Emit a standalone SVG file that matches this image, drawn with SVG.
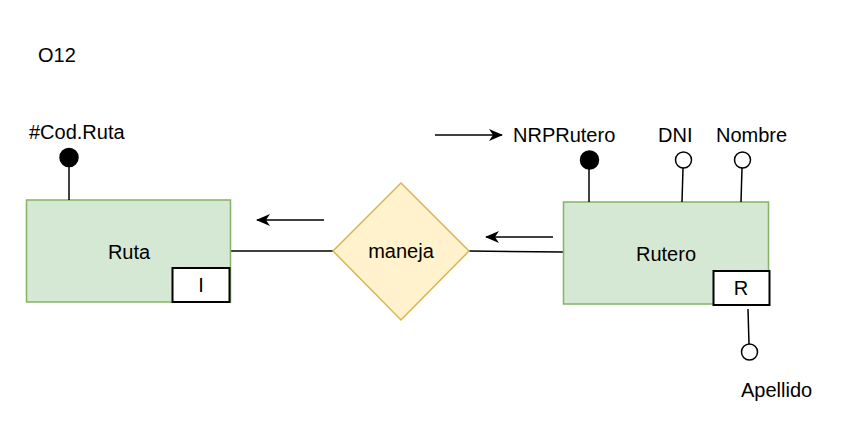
<svg xmlns="http://www.w3.org/2000/svg" width="852" height="436" viewBox="0 0 852 436">
<defs>
<style>
text{font-family:"Liberation Sans",Arial,sans-serif;font-size:20px;fill:#000}
.c{text-anchor:middle}
.ent{fill:#d5e8d4;stroke:#82b366;stroke-width:1.5}
.box{fill:#fff;stroke:#000;stroke-width:2}
.rel{fill:#fff2cc;stroke:#d6b656;stroke-width:1.5}
.ln{stroke:#000;stroke-width:1.5;fill:none}
.key{fill:#000;stroke:#000;stroke-width:1.5}
.opt{fill:#fff;stroke:#000;stroke-width:1.5}
</style>
<marker id="ah" viewBox="0 0 14 12" refX="13" refY="6" markerWidth="14" markerHeight="12" markerUnits="userSpaceOnUse" orient="auto">
<path d="M0,0 L14,6 L0,12 L4,6 Z" fill="#000"/>
</marker>
</defs>
<rect width="852" height="436" fill="#fff"/>
<text x="38" y="62">O12</text>
<g id="connectors">
<line class="ln" x1="231" y1="251" x2="333" y2="251"/>
<line class="ln" x1="469" y1="251" x2="563" y2="252"/>
<line class="ln" x1="324" y1="220" x2="257" y2="220" marker-end="url(#ah)"/>
<line class="ln" x1="553" y1="237" x2="486" y2="237" marker-end="url(#ah)"/>
<line class="ln" x1="435" y1="135" x2="502" y2="135" marker-end="url(#ah)"/>
</g>
<g id="ruta">
<rect class="ent" x="26.5" y="200" width="204" height="102"/>
<text class="c" x="129" y="259">Ruta</text>
<rect class="box" x="172.5" y="268" width="57" height="34"/>
<text class="c" x="201" y="292">I</text>
</g>
<g id="cod-ruta">
<line class="ln" x1="69" y1="158" x2="69" y2="200"/>
<circle class="key" cx="69" cy="157.5" r="9"/>
<text x="29" y="139">#Cod.Ruta</text>
</g>
<g id="maneja">
<polygon class="rel" points="401,183 469,251 401,320 333,251"/>
<text class="c" x="401" y="258">maneja</text>
</g>
<g id="rutero">
<rect class="ent" x="563.5" y="202" width="205" height="102"/>
<text class="c" x="666" y="261">Rutero</text>
<rect class="box" x="713.5" y="271" width="56" height="34"/>
<text class="c" x="741" y="295">R</text>
</g>
<g id="nrprutero">
<line class="ln" x1="589" y1="160" x2="589" y2="202"/>
<circle class="key" cx="589.5" cy="160" r="9"/>
<text x="513" y="142">NRPRutero</text>
</g>
<g id="dni">
<line class="ln" x1="683" y1="168" x2="682" y2="202"/>
<circle class="opt" cx="683.5" cy="160" r="8"/>
<text x="658" y="142">DNI</text>
</g>
<g id="nombre">
<line class="ln" x1="742" y1="168" x2="741" y2="202"/>
<circle class="opt" cx="742.5" cy="160" r="8"/>
<text x="716" y="142">Nombre</text>
</g>
<g id="apellido">
<line class="ln" x1="748" y1="309" x2="749" y2="344"/>
<circle class="opt" cx="749.5" cy="352" r="8"/>
<text x="741" y="397">Apellido</text>
</g>
</svg>
